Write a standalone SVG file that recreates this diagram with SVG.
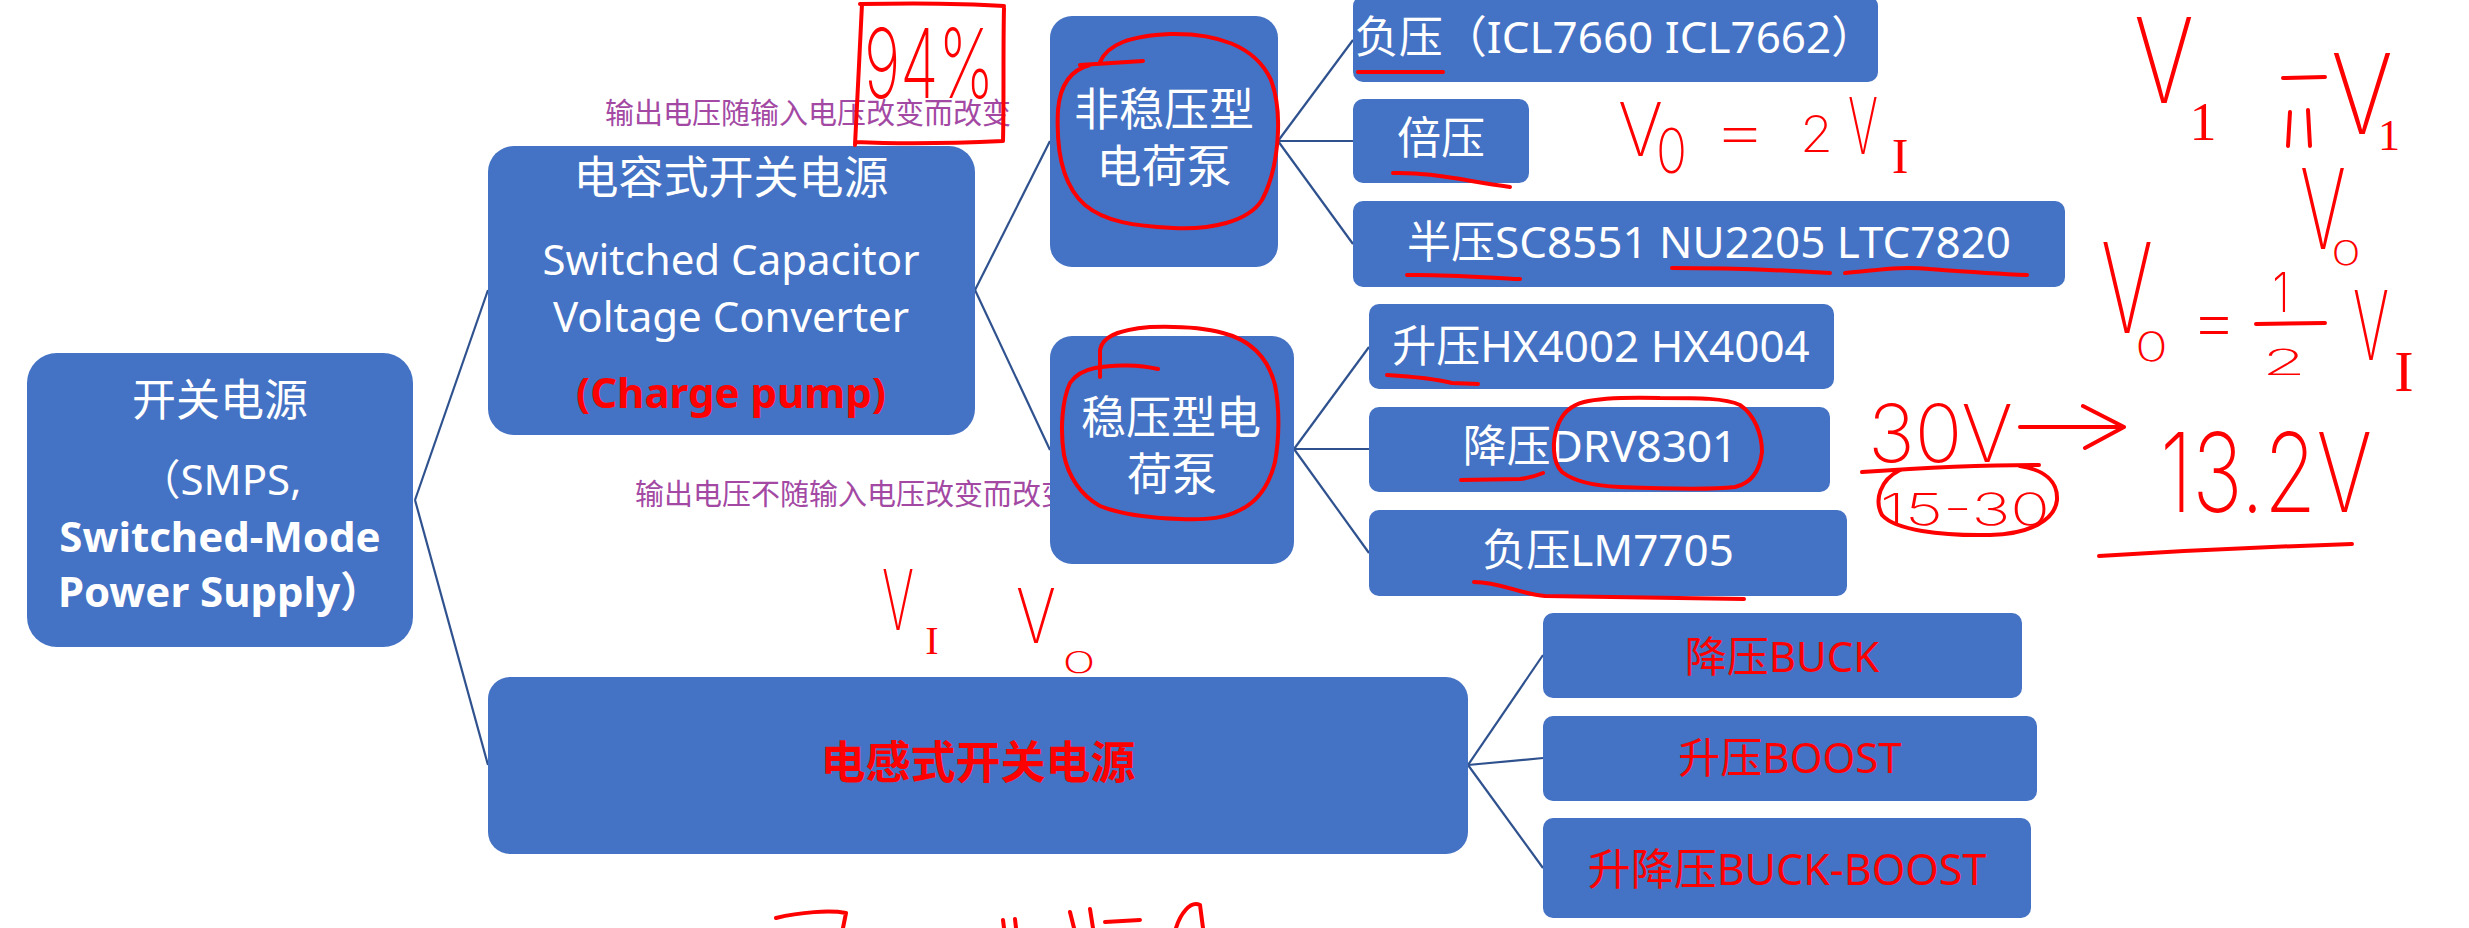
<svg xmlns="http://www.w3.org/2000/svg" width="2469" height="928" viewBox="0 0 2469 928">
<defs>
<style>
.box{fill:#4472C4}
.t{font-family:"Noto Sans","Noto Sans CJK SC",sans-serif;fill:#fff;text-anchor:middle}
.b{font-weight:bold}
.red{fill:#FF0000}
.pur{font-family:"Noto Sans CJK SC",sans-serif;fill:#A349A4;font-size:29px}
.conn path{stroke:#2F528F;stroke-width:2.2;fill:none}
.ink{stroke:#FF0000;stroke-width:4;fill:none;stroke-linecap:round;stroke-linejoin:round}
.hw{font-family:"Inter","Liberation Sans",sans-serif;font-weight:200;fill:#FF0000}
.hws{font-family:"Liberation Serif",serif;fill:#FF0000;text-anchor:middle}
</style>
</defs>
<rect width="2469" height="928" fill="#fff"/>

<g id="connectors" class="conn">
<path d="M415,500 L488,290"/>
<path d="M415,500 L488,765"/>
<path d="M975,290 L1050,141"/>
<path d="M975,290 L1050,450"/>
<path d="M1278,141 L1353,40"/>
<path d="M1278,141 L1353,141"/>
<path d="M1278,141 L1353,244"/>
<path d="M1294,449 L1369,347"/>
<path d="M1294,449 L1369,449"/>
<path d="M1294,449 L1369,553"/>
<path d="M1468,765 L1543,655"/>
<path d="M1468,765 L1543,758"/>
<path d="M1468,765 L1543,868"/>
</g>

<g id="node-root">
<rect class="box" x="27" y="353" width="386" height="294" rx="30"/>
<text class="t" x="220" y="416" font-size="44">开关电源</text>
<text class="t" x="220" y="495" font-size="42">（SMPS,</text>
<text class="t b" x="220" y="552" font-size="42">Switched-Mode</text>
<text class="t b" x="220" y="607" font-size="42">Power Supply）</text>
</g>

<g id="node-capacitor">
<rect class="box" x="488" y="146" width="487" height="289" rx="26"/>
<text class="t" x="731" y="194" font-size="45">电容式开关电源</text>
<text class="t" x="731" y="275" font-size="42">Switched Capacitor</text>
<text class="t" x="731" y="332" font-size="42">Voltage Converter</text>
<text class="t b red" x="731" y="408" font-size="42">(Charge pump)</text>
</g>

<g id="label-unregulated">
<text class="pur" x="605" y="124">输出电压随输入电压改变而改变</text>
</g>
<g id="label-regulated">
<text class="pur" x="635" y="505">输出电压不随输入电压改变而改变</text>
</g>

<g id="node-unregulated">
<rect class="box" x="1050" y="16" width="228" height="251" rx="22"/>
<text class="t" x="1164" y="126" font-size="45">非稳压型</text>
<text class="t" x="1164" y="183" font-size="45">电荷泵</text>
</g>

<g id="node-regulated">
<rect class="box" x="1050" y="336" width="244" height="228" rx="22"/>
<text class="t" x="1171" y="434" font-size="45">稳压型电</text>
<text class="t" x="1172" y="491" font-size="45">荷泵</text>
</g>

<g id="node-negative1">
<rect class="box" x="1353" y="-4" width="525" height="86" rx="10"/>
<text class="t" x="1615" y="53" font-size="44">负压（ICL7660 ICL7662）</text>
</g>
<g id="node-doubler">
<rect class="box" x="1353" y="99" width="176" height="84" rx="10"/>
<text class="t" x="1441" y="154" font-size="44">倍压</text>
</g>
<g id="node-half">
<rect class="box" x="1353" y="201" width="712" height="86" rx="10"/>
<text class="t" x="1709" y="258" font-size="44">半压SC8551 NU2205 LTC7820</text>
</g>

<g id="node-boost-cp">
<rect class="box" x="1369" y="304" width="465" height="85" rx="10"/>
<text class="t" x="1601" y="362" font-size="44">升压HX4002 HX4004</text>
</g>
<g id="node-buck-cp">
<rect class="box" x="1369" y="407" width="461" height="85" rx="10"/>
<text class="t" x="1600" y="462" font-size="44">降压DRV8301</text>
</g>
<g id="node-negative2">
<rect class="box" x="1369" y="510" width="478" height="86" rx="10"/>
<text class="t" x="1608" y="566" font-size="44">负压LM7705</text>
</g>

<g id="node-inductor">
<rect class="box" x="488" y="677" width="980" height="177" rx="22"/>
<text class="t b red" x="978" y="779" font-size="45">电感式开关电源</text>
</g>

<g id="node-buck">
<rect class="box" x="1543" y="613" width="479" height="85" rx="10"/>
<text class="t red" x="1782" y="672" font-size="42">降压BUCK</text>
</g>
<g id="node-boost">
<rect class="box" x="1543" y="716" width="494" height="85" rx="10"/>
<text class="t red" x="1790" y="773" font-size="42">升压BOOST</text>
</g>
<g id="node-buckboost">
<rect class="box" x="1543" y="818" width="488" height="100" rx="10"/>
<text class="t red" x="1787" y="885" font-size="43">升降压BUCK-BOOST</text>
</g>

<g id="annotations">
<path class="ink" d="M862,4 C860,50 857,100 855,145 M855,142 C900,144 960,143 1003,141 M1003,141 C1004,100 1003,50 1004,8 M860,4 C910,3 960,3 1004,6"/>
<text class="hw" x="864" y="98" font-size="96" textLength="130" lengthAdjust="spacingAndGlyphs">94%</text>

<path class="ink" d="M1080,65 L1143,61 M1100,62 C1108,44 1130,36 1170,34 C1215,33 1255,45 1271,80 C1284,115 1278,170 1262,200 C1248,222 1210,230 1173,228 C1135,226 1105,222 1085,205 C1062,185 1056,150 1058,110 C1060,85 1070,70 1090,65"/>
<path class="ink" d="M1100,377 L1100,350 C1102,338 1115,330 1150,327 C1180,326 1205,328 1223,333 C1250,340 1268,357 1275,385 C1280,410 1279,440 1275,462 C1268,490 1255,503 1240,510 C1225,518 1210,520 1180,519 C1150,518 1120,514 1100,506 C1080,495 1068,475 1064,455 C1060,430 1062,400 1070,383 C1076,374 1085,370 1095,368 C1115,364 1140,365 1158,369"/>
<path class="ink" d="M1584,402 C1600,398 1620,397 1660,398 C1700,398 1725,398 1740,405 C1755,415 1762,435 1762,452 C1760,470 1752,483 1735,487 C1710,490 1670,489 1620,487 C1595,486 1575,482 1562,472 C1552,462 1552,440 1558,425 C1563,412 1572,405 1584,402"/>
<path class="ink" d="M1358,72 L1443,72"/>
<path class="ink" d="M1393,173 C1430,172 1460,180 1510,187"/>
<path class="ink" d="M1407,275 C1450,274 1490,278 1520,279"/>
<path class="ink" d="M1672,268 C1720,268 1780,270 1830,273"/>
<path class="ink" d="M1845,273 C1880,270 1900,266 1930,269 C1970,272 2000,274 2027,275"/>
<path class="ink" d="M1387,375 C1420,377 1440,380 1452,383 L1478,384"/>
<path class="ink" d="M1461,480 L1520,479 C1530,478 1536,476 1543,473"/>
<path class="ink" d="M1474,582 C1500,582 1520,594 1545,596 L1744,599"/>

<text class="hw" x="1618" y="156" font-size="74" textLength="45" lengthAdjust="spacingAndGlyphs">V</text>
<text class="hw" x="1656" y="173" font-size="62" textLength="31" lengthAdjust="spacingAndGlyphs">0</text>
<text class="hw" x="1712" y="152" font-size="60" textLength="56" lengthAdjust="spacingAndGlyphs">=</text>
<text class="hw" x="1800" y="152" font-size="50" textLength="33" lengthAdjust="spacingAndGlyphs">2</text>
<text class="hw" x="1848" y="154" font-size="78" textLength="30" lengthAdjust="spacingAndGlyphs">V</text>
<text class="hws" x="1900" y="173" font-size="50">I</text>

<text class="hw" x="2134" y="103" font-size="118" textLength="60" lengthAdjust="spacingAndGlyphs">V</text>
<text class="hws" x="2203" y="140" font-size="54">1</text>
<path class="ink" d="M2283,78 L2325,77 M2290,112 L2288,146 M2308,110 L2310,146"/>
<text class="hw" x="2331" y="134" font-size="112" textLength="62" lengthAdjust="spacingAndGlyphs">V</text>
<text class="hws" x="2389" y="150" font-size="44">1</text>
<text class="hw" x="2300" y="249" font-size="112" textLength="46" lengthAdjust="spacingAndGlyphs">V</text>
<text class="hw" x="2331" y="265" font-size="34" textLength="30" lengthAdjust="spacingAndGlyphs">0</text>

<text class="hw" x="2101" y="333" font-size="125" textLength="52" lengthAdjust="spacingAndGlyphs">V</text>
<text class="hw" x="2135" y="361" font-size="40" textLength="33" lengthAdjust="spacingAndGlyphs">0</text>
<text class="hw" x="2190" y="345" font-size="70" textLength="48" lengthAdjust="spacingAndGlyphs">=</text>
<text class="hw" x="2272" y="312" font-size="55" textLength="18" lengthAdjust="spacingAndGlyphs">1</text>
<path class="ink" d="M2256,324 L2325,323"/>
<text class="hw" x="2262" y="375" font-size="36" textLength="44" lengthAdjust="spacingAndGlyphs">2</text>
<text class="hw" x="2353" y="360" font-size="96" textLength="36" lengthAdjust="spacingAndGlyphs">V</text>
<text class="hws" x="2404" y="391" font-size="58">I</text>

<text class="hw" x="1868" y="462" font-size="80" textLength="145" lengthAdjust="spacingAndGlyphs">30V</text>
<path class="ink" d="M2020,427 L2124,427 M2083,406 L2124,427 L2085,448"/>
<text class="hw" x="2160" y="512" font-size="110" textLength="212" lengthAdjust="spacingAndGlyphs">13.2V</text>
<path class="ink" d="M2099,556 C2180,551 2260,547 2352,544"/>
<path class="ink" d="M1862,472 C1920,468 1990,465 2039,465"/>
<path class="ink" d="M1900,470 C1880,480 1874,500 1882,515 C1895,530 1940,536 1990,535 C2030,534 2055,520 2057,500 C2058,482 2045,470 2020,466"/>
<text class="hw" x="1880" y="525" font-size="44" textLength="170" lengthAdjust="spacingAndGlyphs">15-30</text>

<text class="hw" x="882" y="630" font-size="84" textLength="32" lengthAdjust="spacingAndGlyphs">V</text>
<text class="hws" x="932" y="654" font-size="40">I</text>
<text class="hw" x="1016" y="643" font-size="76" textLength="40" lengthAdjust="spacingAndGlyphs">V</text>
<text class="hw" x="1062" y="673" font-size="30" textLength="34" lengthAdjust="spacingAndGlyphs">0</text>

<path class="ink" d="M776,918 C800,912 830,910 846,913 L843,928 M1003,920 L1004,928 M1015,919 L1016,928 M1070,912 L1074,928 M1090,909 L1093,928 M1105,922 L1140,920 M1176,928 C1180,915 1190,900 1200,905 L1203,928"/>
</g>
</svg>
